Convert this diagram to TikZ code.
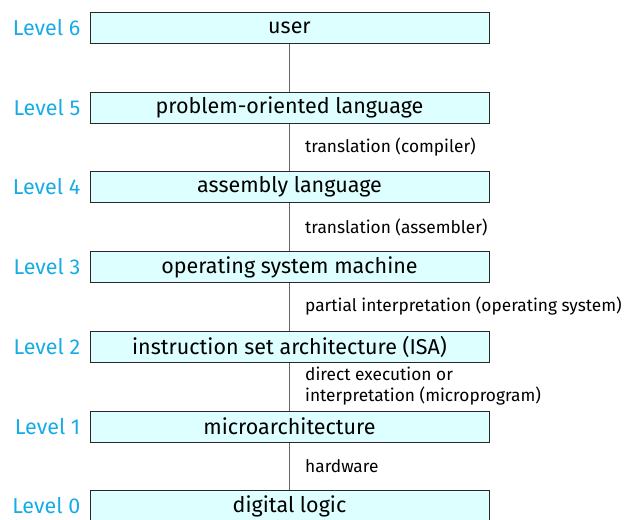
\documentclass[tikz,border=0pt]{standalone}
\usepackage{fontspec}
\setmainfont{Fira Sans}
\definecolor{lvl}{RGB}{22,172,232}
\definecolor{boxfill}{RGB}{221,255,255}
\definecolor{boxline}{RGB}{40,40,40}
\definecolor{conn}{RGB}{100,100,100}
\begin{document}
\begin{tikzpicture}[x=1pt,y=-1pt,
  layer/.style={draw=boxline,line width=1pt,fill=boxfill,minimum width=399pt,minimum height=31pt,inner sep=0pt,font=\fontsize{21.5}{24}\selectfont,anchor=north},
  lvllabel/.style={text=lvl,anchor=east,inner sep=0pt,font=\fontsize{21.5}{24}\selectfont},
  conlabel/.style={anchor=west,inner sep=0pt,align=left,font=\fontsize{17.3}{20.5}\selectfont},
  link/.style={draw=conn,line width=1pt}]
\useasboundingbox (0,0) rectangle (626,519);
\node[layer] (l6) at (289.5,12) {user};
\node[layer] (l5) at (289.5,91.5) {problem-oriented language};
\node[layer] (l4) at (289.5,171) {assembly language};
\node[layer] (l3) at (289.5,251) {operating system machine};
\node[layer] (l2) at (289.5,330.5) {instruction set architecture (ISA)};
\node[layer] (l1) at (289.5,410.5) {microarchitecture};
\node[layer] (l0) at (289.5,490) {digital logic};
\foreach \i in {0,...,6} {\node[lvllabel] (t\i) at ([xshift=-9pt]l\i.west) {Level \i};}
\draw[link] (l6) -- (l5);
\draw[link] (l5) -- (l4);
\draw[link] (l4) -- (l3);
\draw[link] (l3) -- (l2);
\draw[link] (l2) -- (l1);
\draw[link] (l1) -- (l0);
\node[conlabel] (c54) at (305,147) {translation (compiler)};
\node[conlabel] (c43) at (305,227) {translation (assembler)};
\node[conlabel] (c32) at (305,306.5) {partial interpretation (operating system)};
\node[conlabel] (c21) at (305,386) {direct execution or\\interpretation (microprogram)};
\node[conlabel] (c10) at (305,466) {hardware};
\end{tikzpicture}
\end{document}
